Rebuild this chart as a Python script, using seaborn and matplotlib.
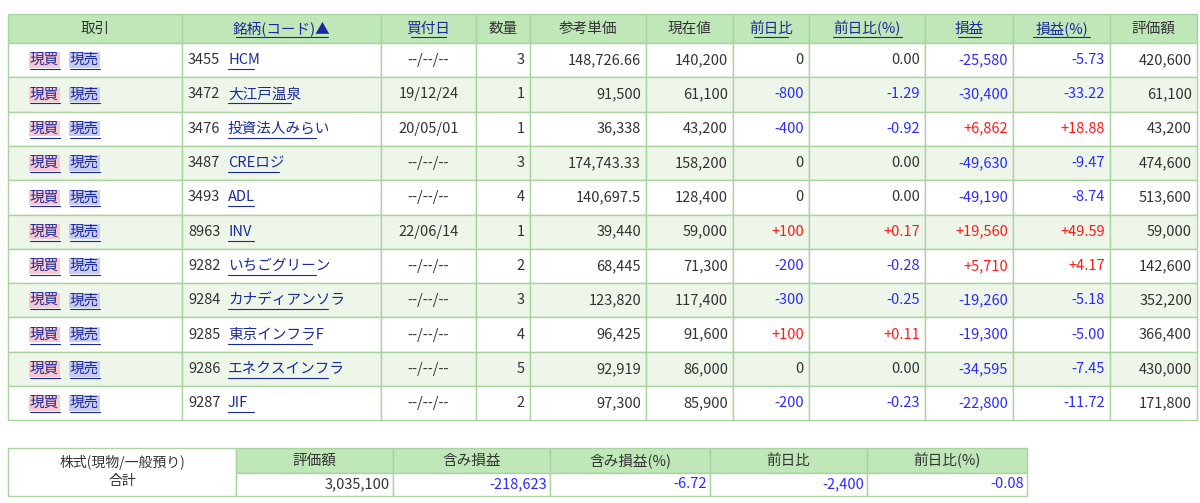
import matplotlib
matplotlib.use("Agg")
import matplotlib.pyplot as plt
import seaborn as sns
from matplotlib.patches import Rectangle

sns.set_theme(style="white")
plt.rcParams["font.family"] = "Noto Sans CJK JP"

headers = ["取引", "銘柄(コード)▲", "買付日", "数量", "参考単価", "現在値", "前日比", "前日比(%)", "損益", "損益(%)", "評価額"]
header_link = [False, True, True, False, False, False, True, True, True, True, False]
codes = ["3455", "3472", "3476", "3487", "3493", "8963", "9282", "9284", "9285", "9286", "9287"]
names = ["HCM", "大江戸温泉", "投資法人みらい", "CREロジ", "ADL", "INV", "いちごグリーン", "カナディアンソラ", "東京インフラF", "エネクスインフラ", "JIF"]
dates = ["--/--/--", "19/12/24", "20/05/01", "--/--/--", "--/--/--", "22/06/14", "--/--/--", "--/--/--", "--/--/--", "--/--/--", "--/--/--"]
qty = ["3", "1", "1", "3", "4", "1", "2", "3", "4", "5", "2"]
ref_price = ["148,726.66", "91,500", "36,338", "174,743.33", "140,697.5", "39,440", "68,445", "123,820", "96,425", "92,919", "97,300"]
cur_price = ["140,200", "61,100", "43,200", "158,200", "128,400", "59,000", "71,300", "117,400", "91,600", "86,000", "85,900"]
day_chg = ["0", "-800", "-400", "0", "0", "+100", "-200", "-300", "+100", "0", "-200"]
day_pct = ["0.00", "-1.29", "-0.92", "0.00", "0.00", "+0.17", "-0.28", "-0.25", "+0.11", "0.00", "-0.23"]
pl = ["-25,580", "-30,400", "+6,862", "-49,630", "-49,190", "+19,560", "+5,710", "-19,260", "-19,300", "-34,595", "-22,800"]
pl_pct = ["-5.73", "-33.22", "+18.88", "-9.47", "-8.74", "+49.59", "+4.17", "-5.18", "-5.00", "-7.45", "-11.72"]
value = ["420,600", "61,100", "43,200", "474,600", "513,600", "59,000", "142,600", "352,200", "366,400", "430,000", "171,800"]

sum_headers = ["評価額", "含み損益", "含み損益(%)", "前日比", "前日比(%)"]
sum_values = ["3,035,100", "-218,623", "-6.72", "-2,400", "-0.08"]

col_edges = [8, 182, 381, 476, 530, 646, 733, 809, 925, 1013, 1110, 1197]
sum_edges = [8, 236, 393, 550, 710, 867, 1027]

HEAD = "#bfe7b8"
ALT = "#eef6ea"
BORDER = "#a9d4a1"
LINK = "#1a2a9a"
NEG = "#2b2bff"
POS = "#ff1a1a"
TXT = "#333333"
FS = 10.5

fig = plt.figure(figsize=(12, 5.03), dpi=100)
ax = fig.add_axes([0, 0, 1, 1])
ax.set_xlim(0, 1200)
ax.set_ylim(503, 0)
ax.axis("off")


def cell(x0, x1, y0, y1, fc):
    ax.add_patch(Rectangle((x0, y0), x1 - x0, y1 - y0, facecolor=fc, edgecolor=BORDER, lw=1))


def sign_color(s):
    if s.startswith("-"):
        return NEG
    if s.startswith("+"):
        return POS
    return TXT


def underlined(x, y, s, color, ha="center", **kw):
    t = ax.text(x, y, s, color=color, ha=ha, va="center", fontsize=FS, **kw)
    return t


# header
hy0, hy1 = 14, 43
rh = 34.3
for j, h in enumerate(headers):
    x0, x1 = col_edges[j], col_edges[j + 1]
    cell(x0, x1, hy0, hy1, HEAD)
    underlined((x0 + x1) / 2, (hy0 + hy1) / 2, h, LINK if header_link[j] else TXT)
    if header_link[j]:
        w = len(h) * 11.5
        ax.plot([(x0 + x1) / 2 - w / 2, (x0 + x1) / 2 + w / 2], [hy1 - 6, hy1 - 6], color=LINK, lw=0.8)

for i in range(len(codes)):
    y0 = hy1 + i * rh
    y1 = y0 + rh
    yc = (y0 + y1) / 2
    fc = "white" if i % 2 == 0 else ALT
    for j in range(len(headers)):
        cell(col_edges[j], col_edges[j + 1], y0, y1, fc)
    # trade buttons
    ax.text(30, yc, "現買", color=LINK, fontsize=FS, va="center",
            bbox=dict(boxstyle="square,pad=0.05", fc="#f8c8d0", ec="none"))
    ax.text(70, yc, "現売", color=LINK, fontsize=FS, va="center",
            bbox=dict(boxstyle="square,pad=0.05", fc="#c8ccf4", ec="none"))
    ax.plot([30, 60], [yc + 9, yc + 9], color=LINK, lw=0.8)
    ax.plot([70, 100], [yc + 9, yc + 9], color=LINK, lw=0.8)
    ax.text(188, yc, codes[i], color=TXT, fontsize=FS, va="center")
    ax.text(228, yc, names[i], color=LINK, fontsize=FS, va="center")
    nw = sum(12.5 if ord(c) > 255 else 8.5 for c in names[i])
    ax.plot([228, 228 + nw], [yc + 9, yc + 9], color=LINK, lw=0.8)
    ax.text((col_edges[2] + col_edges[3]) / 2, yc, dates[i], color=TXT, fontsize=FS, ha="center", va="center")
    right = [qty[i], ref_price[i], cur_price[i], day_chg[i], day_pct[i], pl[i], pl_pct[i], value[i]]
    for k, s in enumerate(right):
        j = k + 3
        color = TXT if j in (3, 4, 5, 10) else sign_color(s)
        ax.text(col_edges[j + 1] - 5, yc, s, color=color, fontsize=FS, ha="right", va="center")

# summary table
sy0, sy1, sy2 = 448, 473, 496
cell(sum_edges[0], sum_edges[1], sy0, sy2, "white")
ax.text((sum_edges[0] + sum_edges[1]) / 2, 462, "株式(現物/一般預り)", color=TXT, fontsize=FS - 0.5, ha="center", va="center")
ax.text((sum_edges[0] + sum_edges[1]) / 2, 481, "合計", color=TXT, fontsize=FS - 0.5, ha="center", va="center")
for k, (h, v) in enumerate(zip(sum_headers, sum_values)):
    x0, x1 = sum_edges[k + 1], sum_edges[k + 2]
    cell(x0, x1, sy0, sy1, HEAD)
    cell(x0, x1, sy1, sy2, "white")
    ax.text((x0 + x1) / 2, (sy0 + sy1) / 2, h, color=TXT, fontsize=FS, ha="center", va="center")
    ax.text(x1 - 3, (sy1 + sy2) / 2, v, color=TXT if k == 0 else NEG, fontsize=FS, ha="right", va="center")

fig.savefig("out.png", dpi=100, facecolor="white")
